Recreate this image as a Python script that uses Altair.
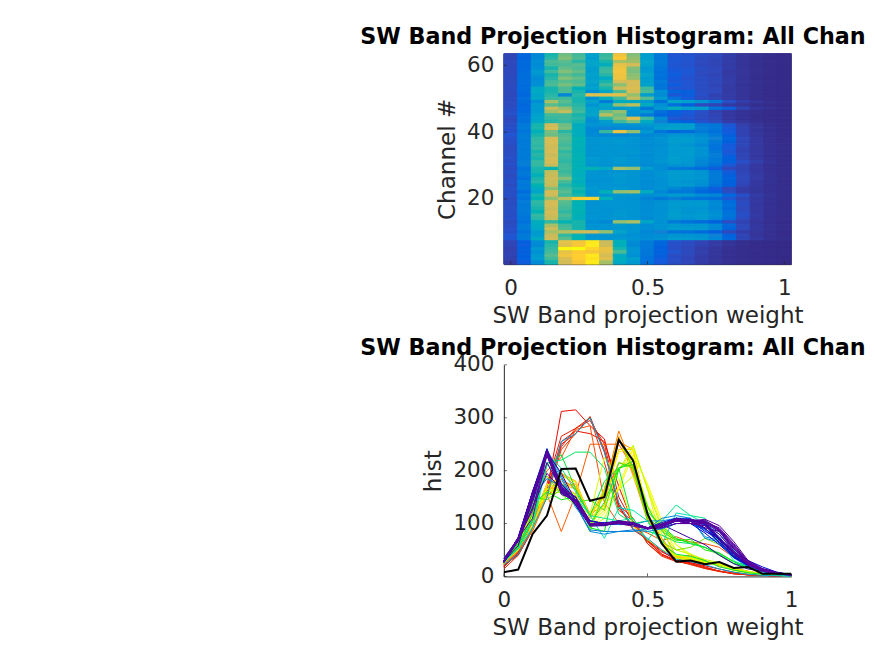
import colorsys
import altair as alt
import pandas as pd

bin_centers = [round(i * 0.05, 2) for i in range(21)]
# one row per channel, from channel 63 (top of the image) down to channel 1
hist_rows = [
    [22,50,85,150,185,165,115,160,262,195,110,70,34,32,28,24,16,9,5,3,1],
    [22,48,88,155,195,170,110,165,275,205,112,68,35,34,26,24,15,9,5,2,1],
    [24,52,92,170,175,155,120,150,215,210,118,72,36,33,26,22,16,8,4,3,1],
    [24,52,90,165,170,175,118,135,255,240,115,70,34,32,25,22,14,8,4,2,1],
    [25,52,95,150,180,170,112,160,262,195,105,66,36,34,28,24,16,10,5,3,1],
    [25,54,105,165,195,180,110,165,265,190,108,60,38,36,26,24,12,8,5,2,1],
    [24,56,100,150,175,165,115,155,262,200,118,64,40,34,26,22,13,9,4,2,1],
    [26,56,90,155,195,180,112,130,262,205,110,60,38,32,28,24,16,8,4,2,1],
    [24,56,92,165,175,170,118,150,240,240,110,70,36,34,28,24,15,9,5,3,1],
    [25,54,95,170,190,178,112,165,200,240,115,64,40,34,28,22,14,7,4,2,1],
    [26,56,125,150,170,140,115,150,235,245,165,66,34,34,28,24,13,9,5,2,1],
    [25,54,128,150,170,150,92,120,170,240,170,95,50,42,28,26,13,8,4,2,1],
    [24,50,120,155,85,155,250,250,250,205,110,90,36,40,30,20,15,8,4,2,1],
    [26,56,125,160,165,150,95,135,165,230,175,105,60,38,26,22,14,8,4,2,1],
    [26,54,92,215,175,150,115,72,130,125,105,60,120,115,100,70,30,16,9,4,2],
    [26,50,108,175,165,155,100,125,205,225,135,95,60,42,26,22,12,9,4,2,1],
    [28,52,108,230,205,160,115,110,105,110,68,105,135,115,110,62,40,20,10,5,2],
    [30,52,105,210,230,165,115,180,205,100,105,60,42,38,30,18,12,7,4,2,1],
    [30,58,115,165,165,150,118,225,185,95,70,50,40,36,28,22,11,7,3,2,1],
    [25,60,120,160,165,155,95,160,200,248,165,90,34,32,28,22,12,7,4,2,1],
    [26,60,125,155,160,150,92,110,165,190,130,80,50,42,32,26,15,9,5,2,1],
    [28,70,150,235,185,130,100,100,98,98,105,105,110,110,72,65,35,18,9,4,2],
    [30,70,150,240,190,135,85,80,85,85,90,110,115,110,75,68,38,20,10,5,2],
    [30,66,140,190,155,135,85,162,260,205,105,65,50,55,72,60,38,20,10,5,2],
    [34,72,150,185,170,135,88,85,85,88,85,90,100,100,90,72,42,20,9,5,2],
    [30,72,158,240,175,145,100,100,100,100,90,98,108,108,100,80,48,25,12,5,2],
    [30,70,160,242,170,140,100,102,104,100,92,96,110,108,96,72,44,22,12,5,2],
    [28,72,158,238,165,142,98,100,100,98,90,92,105,100,88,64,38,24,12,6,3],
    [26,70,160,235,172,140,100,100,102,100,92,98,108,108,100,62,38,20,11,6,3],
    [28,72,150,240,158,140,100,100,100,102,92,95,105,108,98,68,36,20,12,6,3],
    [28,72,156,232,165,142,98,102,100,98,90,98,108,108,98,75,40,22,12,6,3],
    [30,70,150,238,160,145,105,100,104,100,92,98,110,104,90,70,44,22,12,6,3],
    [28,74,160,238,158,140,105,100,104,100,92,102,110,105,85,72,44,30,18,8,3],
    [30,74,160,232,165,142,100,98,100,100,90,92,100,100,82,60,36,22,12,6,3],
    [26,62,150,145,165,140,145,125,215,205,110,90,70,65,55,40,24,20,12,6,3],
    [30,68,150,228,162,140,100,98,100,100,92,98,108,108,100,68,38,22,12,6,3],
    [26,68,140,232,170,135,100,100,105,100,90,100,108,105,100,72,42,24,14,7,3],
    [28,58,150,235,195,142,98,96,102,100,92,95,108,105,102,72,48,24,14,7,3],
    [30,72,155,230,168,135,95,96,102,100,90,95,105,100,96,70,45,24,12,7,3],
    [26,68,145,232,155,145,100,100,100,98,92,95,105,104,92,64,44,22,12,6,3],
    [30,70,130,195,165,150,105,100,105,100,90,98,85,72,60,40,24,14,10,6,3],
    [28,55,120,238,175,145,100,140,205,212,132,85,68,70,50,44,28,15,10,6,3],
    [30,70,150,235,165,150,100,100,102,100,92,98,108,104,92,85,52,30,15,8,3],
    [26,62,145,200,225,278,285,140,100,95,82,68,75,65,62,55,36,22,12,6,3],
    [28,74,158,238,175,145,98,100,100,100,90,96,105,105,104,88,56,26,12,6,3],
    [28,70,155,240,170,140,98,100,100,100,92,98,108,105,106,90,60,28,12,6,3],
    [28,72,150,232,165,142,96,98,100,100,90,95,105,100,100,85,54,24,12,6,3],
    [30,72,145,240,158,145,100,98,102,100,92,96,108,100,102,92,62,28,12,6,3],
    [28,68,160,235,170,140,100,100,104,100,92,98,110,105,108,96,66,30,14,6,3],
    [30,66,155,230,162,138,100,100,100,100,90,96,105,100,104,88,58,26,12,6,3],
    [26,62,135,160,145,150,92,85,205,218,122,95,72,62,55,44,28,20,10,5,2],
    [28,70,130,215,165,150,98,100,105,102,90,98,105,100,102,88,52,24,12,6,3],
    [30,72,125,235,170,150,100,100,102,100,92,98,108,108,104,86,48,24,12,6,3],
    [30,62,108,215,220,235,235,205,118,100,85,78,65,62,55,42,25,16,10,5,2],
    [34,72,110,232,160,140,100,100,100,95,90,92,100,100,96,80,46,22,10,5,2],
    [34,72,130,235,175,145,105,100,104,100,92,98,110,105,102,84,50,22,12,6,3],
    [22,42,92,150,255,270,300,235,140,90,72,50,32,28,22,14,8,4,2,1,0],
    [22,40,88,155,250,270,302,235,135,88,70,48,30,26,20,14,8,4,2,1,0],
    [18,45,105,160,312,315,285,260,150,100,68,42,30,24,16,10,5,3,2,1,0],
    [20,42,95,165,255,275,270,255,170,100,68,46,34,26,18,10,5,3,2,1,0],
    [20,44,105,175,265,280,300,240,130,95,66,42,28,24,16,10,6,3,2,1,0],
    [18,46,108,165,245,280,295,250,135,110,62,40,30,22,15,9,5,3,2,1,0],
    [14,40,90,150,240,270,302,215,125,105,62,38,28,24,15,10,6,3,2,1,0],
]
channels_top_down = list(range(63, 0, -1))
# order in which the channel traces are stacked and coloured
draw_order = [6,5,4,3,2,1,20,51,63,62,61,60,59,58,57,56,55,54,53,52,50,48,
              45,43,44,40,29,22,13,46,10,47,49,8,7,42,41,39,38,37,36,35,34,33,32,
              31,30,28,27,26,25,24,23,21,19,18,17,16,15,14,12,11,9]
mean_hist = [8,13,80,115,203,204,143,150,258,219,118,62,28,30,23,27,16,18,5,5,5]
x_ticks = [0, 0.5, 1]
channel_ticks = [20, 40, 60]
hist_ticks = [0, 100, 200, 300, 400]

parula = ["#352a87","#0f5cdd","#1481d6","#06a4ca","#2eb7a4",
          "#87bf77","#d1bb59","#fec832","#f9fb0e"]
ink = "#262626"
TITLE = "SW Band Projection Histogram: All Chan"

cells, traces = [], []
rank = {c: i for i, c in enumerate(draw_order)}
for ch, row in zip(channels_top_down, hist_rows):
    for xc, v in zip(bin_centers, row):
        cells.append(dict(x0=xc-0.025, x1=xc+0.025, y0=ch-0.5, y1=ch+0.5, v=v))
        traces.append(dict(x=xc, v=v, rank=rank[ch]))
traces = pd.DataFrame(traces).sort_values(["rank", "x"])
n = len(draw_order)
palette = []
for i in range(n):
    if i < 6:
        h, val = 0.0 + i * 0.006, 0.92
    elif i < 25:
        h, val = 0.05 + (i - 6) / 19 * 0.17, 1.0
    elif i < 34:
        h, val = 0.25 + (i - 25) / 9 * 0.27, 0.9
    elif i < 47:
        h, val = 0.54 + (i - 34) / 13 * 0.14, 0.85
    else:
        h, val = 0.72 + (i - 47) / 16 * 0.05, 0.62
    r, g, b = colorsys.hsv_to_rgb(h, 1.0, val)
    palette.append("#%02x%02x%02x" % (int(r*255), int(g*255), int(b*255)))

ttl = dict(font="DejaVu Sans", fontSize=22.3, fontWeight="bold", color="black",
           anchor="start", frame="group", dx=-144)
def xaxis(): return alt.Axis(title="SW Band projection weight", values=x_ticks, ticks=False,
    labelFontSize=21.5, titleFontSize=23.1, labelColor=ink, titleColor=ink, titleFontWeight="normal",
    labelFont="DejaVu Sans", titleFont="DejaVu Sans", grid=False, domainColor=ink, labelPadding=13,
    titlePadding=5.5, labelFlush=False, format="~g")
def yaxis(t, vals): return alt.Axis(title=t, values=vals, ticks=False, labelFontSize=21.5,
    titleFontSize=23.1, labelColor=ink, titleColor=ink, titleFontWeight="normal",
    labelFont="DejaVu Sans", titleFont="DejaVu Sans", grid=False, domainColor=ink, labelPadding=10,
    titlePadding=7)

def x_tick_marks(h):
    return alt.Chart(pd.DataFrame(dict(t=x_ticks))).mark_rule(color=ink, strokeWidth=0.7).encode(
        x="t:Q", y=alt.value(h), y2=alt.value(h - 3))
def y_tick_marks(vals):
    return alt.Chart(pd.DataFrame(dict(t=vals))).mark_rule(color=ink, strokeWidth=0.7).encode(
        y="t:Q", x=alt.value(0), x2=alt.value(3))

xs_top = alt.Scale(domain=[-0.025, 1.025], nice=False, zero=False)
ys_top = alt.Scale(domain=[0.5, 63.5], nice=False, zero=False)
col = alt.Scale(domain=[i * 315 / 8 for i in range(9)], range=parula, clamp=True)
heat = alt.Chart(pd.DataFrame(cells)).mark_rect(strokeWidth=1).encode(
    x=alt.X("x0:Q", scale=xs_top, axis=xaxis()), x2="x1:Q",
    y=alt.Y("y0:Q", scale=ys_top, axis=yaxis("Channel #", channel_ticks)), y2="y1:Q",
    color=alt.Color("v:Q", scale=col, legend=None),
    stroke=alt.Stroke("v:Q", scale=col, legend=None))
top = alt.layer(heat, x_tick_marks(211), y_tick_marks(channel_ticks)).properties(
    width=288, height=211, title=alt.TitleParams(TITLE, offset=5, **ttl),
    view=alt.ViewBackground(stroke=ink, strokeWidth=0.7))

xs = alt.Scale(domain=[0, 1], nice=False, zero=False)
ys = alt.Scale(domain=[0, 400], nice=False)
lines = alt.Chart(traces).mark_line(strokeWidth=1).encode(
    x=alt.X("x:Q", scale=xs, axis=xaxis()),
    y=alt.Y("v:Q", scale=ys, axis=yaxis("hist", hist_ticks)),
    color=alt.Color("rank:N", scale=alt.Scale(domain=list(range(n)), range=palette), legend=None),
    order="x:Q")
black = alt.Chart(pd.DataFrame(dict(x=bin_centers, v=mean_hist))).mark_line(
    color="black", strokeWidth=2).encode(x="x:Q", y="v:Q")
bottom = alt.layer(lines, black, x_tick_marks(212), y_tick_marks(hist_ticks)).properties(
    width=288, height=212, title=alt.TitleParams(TITLE, offset=-5.5, **ttl))

chart = alt.vconcat(top, bottom, spacing=9).resolve_scale(color="independent", x="independent", y="independent", stroke="independent").properties(
    padding={"left": 352, "top": 16, "right": 0, "bottom": 0}
).configure_view(stroke=None)
chart.save("out.html", embed_options={"renderer": "svg", "actions": False})
